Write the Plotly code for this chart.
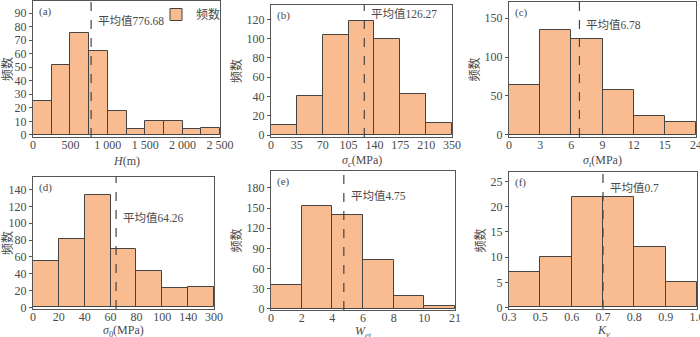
import plotly.graph_objects as go

# panel data
h_counts = [25, 52, 75, 62, 18, 4, 10, 10, 4, 5]
h_edges = [0, 250, 500, 750, 1000, 1250, 1500, 1750, 2000, 2250, 2500]
h_mean = 776.68

sc_counts = [10, 41, 104, 118, 100, 43, 13]
sc_ticks = ["0", "35", "70", "105", "140", "175", "210", "350"]
sc_mean = 126.27

st_counts = [64, 135, 123, 58, 24, 16]
st_ticks = ["0", "3", "6", "9", "12", "15", "24"]
st_mean = 6.78

s0_counts = [55, 81, 134, 69, 43, 23, 24]
s0_ticks = ["0", "20", "40", "60", "80", "100", "140", "300"]
s0_mean = 64.26

wet_counts = [35, 153, 140, 73, 20, 5]
wet_ticks = ["0", "2", "4", "6", "8", "10", "21"]
wet_mean = 4.75

kv_counts = [7, 10, 22, 22, 12, 5]
kv_ticks = ["0.3", "0.5", "0.6", "0.7", "0.8", "0.9", "1.0"]
kv_mean = 0.7

FILL = "#F8BC90"
EDGE = "#444444"
TXT = "#4a4a4a"
FONT = '"Times New Roman", "Liberation Serif", "Noto Sans CJK SC", serif'
W, H = 700, 337


def edge_pos(ticks, value):
    # place a value on the equal-width bin scale
    vals = [float(t) for t in ticks]
    for i in range(len(vals) - 1):
        if vals[i] <= value <= vals[i + 1]:
            return i + (value - vals[i]) / (vals[i + 1] - vals[i])
    return 0


panels = [
    # label, counts, ticks, mean, x px, y px, yrange, ydtick, xtitle, text y
    ("(a)", h_counts, None, h_mean, (33, 220), (1, 137), [-1.6, 99], 10, "<i>H</i>(m)", 0.85),
    ("(b)", sc_counts, sc_ticks, sc_mean, (271, 452), (5, 137), [-2, 135], 20, "<i>σ</i><sub><i>c</i></sub>(MPa)", 0.93),
    ("(c)", st_counts, st_ticks, st_mean, (509, 696), (2, 137), [-3, 171], 50, "<i>σ</i><sub><i>t</i></sub>(MPa)", 0.83),
    ("(d)", s0_counts, s0_ticks, s0_mean, (33, 214), (177, 309), [-2, 155], 20, "<i>σ</i><sub>0</sub>(MPa)", 0.69),
    ("(e)", wet_counts, wet_ticks, wet_mean, (271, 455), (171, 310), [-1.5, 205], 30, "<i>W</i><sub><i>et</i></sub>", 0.82),
    ("(f)", kv_counts, kv_ticks, kv_mean, (509, 697), (172, 309), [-0.3, 26.9], 5, "<i>K</i><sub><i>v</i></sub>", 0.88),
]

fig = go.Figure()
shapes = []
annotations = []

for k, (lab, counts, ticks, mean, xp, yp, yr, ydt, xtitle, ty) in enumerate(panels):
    n = k + 1
    xa = "x" if n == 1 else f"x{n}"
    ya = "y" if n == 1 else f"y{n}"
    if ticks is None:
        xs = [(h_edges[i] + h_edges[i + 1]) / 2 for i in range(len(counts))]
        width = [h_edges[i + 1] - h_edges[i] for i in range(len(counts))]
        xrange = [h_edges[0], h_edges[-1]]
        tickvals = [0, 500, 1000, 1500, 2000, 2500]
        ticktext = ["0", "500", "1 000", "1 500", "2 000", "2 500"]
        mx = mean
    else:
        xs = [i + 0.5 for i in range(len(counts))]
        width = [1] * len(counts)
        xrange = [0, len(counts)]
        tickvals = list(range(len(ticks)))
        ticktext = ticks
        mx = edge_pos(ticks, mean)

    fig.add_trace(go.Bar(
        x=xs, y=counts, width=width, xaxis=xa, yaxis=ya,
        marker=dict(color=FILL, line=dict(color=EDGE, width=1)),
        name="频数", showlegend=(n == 1),
    ))

    dom_x = [xp[0] / W, xp[1] / W]
    dom_y = [1 - yp[1] / H, 1 - yp[0] / H]
    axis_common = dict(showline=True, linecolor="#555555", linewidth=1, mirror=True,
                       showgrid=False, zeroline=False,
                       tickfont=dict(family=FONT, size=12, color=TXT))
    fig.layout[("xaxis" if n == 1 else f"xaxis{n}")] = dict(
        domain=dom_x, anchor=ya, range=xrange, tickmode="array",
        tickvals=tickvals, ticktext=ticktext, ticks="", ticklen=0,
        ticklabelstandoff=-3, ticklabeloverflow="allow", **axis_common)
    fig.layout[("yaxis" if n == 1 else f"yaxis{n}")] = dict(
        domain=dom_y, anchor=xa, range=yr, dtick=ydt, tick0=0,
        ticks="outside", ticklen=3, tickcolor="#555555",
        title=dict(text="频数", font=dict(family=FONT, size=12, color=TXT), standoff=2),
        **axis_common)

    # x-axis title placed just under the tick labels
    annotations.append(dict(text=xtitle, xref=f"{xa} domain", yref="paper",
                            x=0.5, y=1 - (yp[1] + (24 if n <= 3 else 22)) / H,
                            xanchor="center", yanchor="middle",
                            showarrow=False, font=dict(family=FONT, size=12, color=TXT)))

    shapes.append(dict(type="line", xref=xa, yref=f"{ya} domain", x0=mx, x1=mx, y0=0, y1=1,
                       line=dict(color="#444444", width=1.2, dash="dash")))
    annotations.append(dict(text=lab, xref=f"{xa} domain", yref=f"{ya} domain", x=0.02, y=0.985,
                            xanchor="left", yanchor="top", showarrow=False,
                            font=dict(family=FONT, size=11, color=TXT)))
    annotations.append(dict(text=f"平均值{mean:g}" if n == 6 else f"平均值{mean}",
                            xref=xa, yref=f"{ya} domain", x=mx, y=ty,
                            xanchor="left", yanchor="middle", xshift=5, showarrow=False,
                            font=dict(family=FONT, size=11.5, color=TXT)))

fig.update_layout(
    width=W, height=H, margin=dict(l=0, r=0, t=0, b=0, autoexpand=False),
    paper_bgcolor="white", plot_bgcolor="white",
    shapes=shapes, annotations=annotations, bargap=0,
    legend=dict(x=226 / W, y=1.0, xanchor="right", yanchor="top",
                bgcolor="rgba(0,0,0,0)", font=dict(family=FONT, size=12, color=TXT),
                itemwidth=30, tracegroupgap=0),
)

# drop the page's default body margin so the figure sits at 0,0
fig.write_html("out.html", config={"displayModeBar": False},
               post_script="document.body.style.margin='0';")
